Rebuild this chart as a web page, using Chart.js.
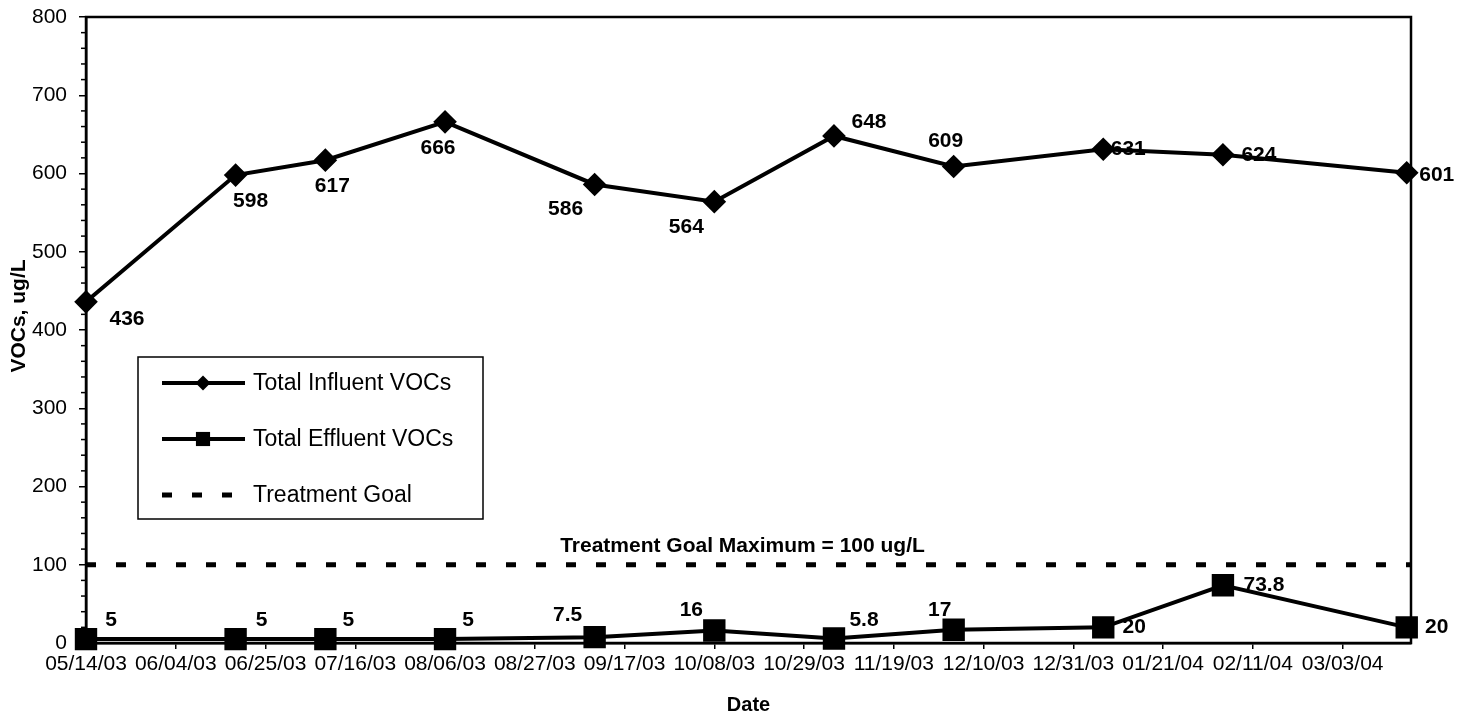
<!DOCTYPE html>
<html>
<head>
<meta charset="utf-8">
<title>Total VOCs - Influent / Effluent</title>
<script src="https://cdn.jsdelivr.net/npm/chart.js@4.4.1/dist/chart.umd.min.js"></script>
<style>
    html, body { margin: 0; padding: 0; background: #fff; }
    #wrap { width: 1477px; height: 723px; }
</style>
</head>
<body>
<div id="wrap"><canvas id="vocChart"></canvas></div>
<script>
// sampling dates and results (ug/L)
const sampleDates = ["05/14/03", "06/18/03", "07/09/03", "08/06/03", "09/10/03", "10/08/03",
                     "11/05/03", "12/03/03", "01/07/04", "02/04/04", "03/18/04"];
const influentVOCs = [436, 598, 617, 666, 586, 564, 648, 609, 631, 624, 601];
const effluentVOCs = [5, 5, 5, 5, 7.5, 16, 5.8, 17, 20, 73.8, 20];
const treatmentGoal = 100;

// axis range and tick labels
const axisStart = "05/14/03";
const axisEnd = "03/19/04";
const dateTicks = ["05/14/03", "06/04/03", "06/25/03", "07/16/03", "08/06/03", "08/27/03", "09/17/03",
                   "10/08/03", "10/29/03", "11/19/03", "12/10/03", "12/31/03", "01/21/04", "02/11/04", "03/03/04"];
const yTicks = [0, 100, 200, 300, 400, 500, 600, 700, 800];

// where each data label sits relative to its point (dx, dy in px)
const influentLabelOffsets = [[41, 17], [15, 26], [7, 26], [-7, 26], [-29, 25], [-28, 26],
                              [35, -14], [-8, -25], [25, 0], [36, 0], [30, 2]];
const effluentLabelOffsets = [[25, -19], [26, -19], [23, -19], [23, -19], [-27, -22], [-23, -20],
                              [30, -18], [-14, -19], [31, 0], [41, 0], [30, 0]];

const FONT = 'Arial, "Liberation Sans", sans-serif';

// mm/dd/yy -> day number
function toDay(str) {
    const parts = str.split("/").map(Number);
    return Date.UTC(2000 + parts[2], parts[0] - 1, parts[1]) / 86400000;
}

const tickLabelByDay = {};
dateTicks.forEach(t => { tickLabelByDay[toDay(t)] = t; });

// frame around the plot area + minor ticks on the y axis + y title
const framePlugin = {
    id: "frame",
    beforeDatasetsDraw(chart) {
        const { ctx, chartArea } = chart;
        const y = chart.scales.y;
        ctx.save();
        ctx.strokeStyle = "#000";
        ctx.lineWidth = 2.5;
        ctx.strokeRect(chartArea.left, chartArea.top, chartArea.right - chartArea.left, chartArea.bottom - chartArea.top);
        ctx.lineWidth = 1.5;
        for (let v = 0; v <= 800; v += 20) {
            if (v % 100 === 0) continue;
            const py = y.getPixelForValue(v);
            ctx.beginPath();
            ctx.moveTo(chartArea.left - 5, py);
            ctx.lineTo(chartArea.left, py);
            ctx.stroke();
        }

        // axis title, a bit above the middle like the original
        ctx.translate(19, (chartArea.top + chartArea.bottom) / 2 - 14);
        ctx.rotate(-Math.PI / 2);
        ctx.fillStyle = "#000";
        ctx.font = "bold 21px " + FONT;
        ctx.textAlign = "center";
        ctx.textBaseline = "middle";
        ctx.fillText("VOCs, ug/L", 0, 0);
        ctx.restore();
    }
};

// value labels next to the points and the goal caption
const labelPlugin = {
    id: "valueLabels",
    afterDatasetsDraw(chart) {
        const ctx = chart.ctx;
        ctx.save();
        ctx.fillStyle = "#000";
        ctx.font = "bold 21px " + FONT;
        ctx.textAlign = "center";
        ctx.textBaseline = "middle";

        const series = [[0, influentVOCs, influentLabelOffsets], [1, effluentVOCs, effluentLabelOffsets]];
        series.forEach(([index, values, offsets]) => {
            const meta = chart.getDatasetMeta(index);
            meta.data.forEach((pt, i) => {
                ctx.fillText(String(values[i]), pt.x + offsets[i][0], pt.y + offsets[i][1]);
            });
        });

        const area = chart.chartArea;
        const goalY = chart.scales.y.getPixelForValue(treatmentGoal);
        ctx.fillText("Treatment Goal Maximum = 100 ug/L", (area.left + area.right) / 2 - 6, goalY - 19);
        ctx.restore();
    }
};

// legend box sitting inside the plot
const legendBox = { left: 138, top: 357, width: 345, height: 162 };
const legendRadius = [7.5, 10, 0];

const insetLegend = {
    id: "insetLegend",
    afterDraw(chart) {
        const ctx = chart.ctx;
        ctx.save();
        ctx.fillStyle = "#fff";
        ctx.fillRect(legendBox.left, legendBox.top, legendBox.width, legendBox.height);
        ctx.strokeStyle = "#000";
        ctx.lineWidth = 1.5;
        ctx.strokeRect(legendBox.left, legendBox.top, legendBox.width, legendBox.height);

        ctx.font = "23px " + FONT;
        ctx.textAlign = "left";
        ctx.textBaseline = "middle";
        chart.data.datasets.forEach((ds, i) => {
            const y = legendBox.top + 26 + i * 56;
            ctx.strokeStyle = "#000";
            ctx.fillStyle = "#000";
            ctx.lineWidth = ds.borderWidth;
            ctx.setLineDash(ds.borderDash || []);
            ctx.beginPath();
            ctx.moveTo(legendBox.left + 24, y);
            ctx.lineTo(legendBox.left + 107, y);
            ctx.stroke();
            ctx.setLineDash([]);
            if (legendRadius[i] > 0) {
                Chart.helpers.drawPoint(ctx, { pointStyle: ds.pointStyle, radius: legendRadius[i], borderWidth: 0 },
                    legendBox.left + 65, y);
            }
            ctx.fillText(ds.label, legendBox.left + 115, y + 1);
        });
        ctx.restore();
    }
};

document.addEventListener("DOMContentLoaded", function () {
    const ctx = document.getElementById("vocChart").getContext("2d");

    const influentData = sampleDates.map((d, i) => ({ x: toDay(d), y: influentVOCs[i] }));
    const effluentData = sampleDates.map((d, i) => ({ x: toDay(d), y: effluentVOCs[i] }));
    const goalData = [{ x: toDay(axisStart), y: treatmentGoal }, { x: toDay(axisEnd), y: treatmentGoal }];

    new Chart(ctx, {
        type: "line",
        data: {
            datasets: [{
                label: "Total Influent VOCs",
                data: influentData,
                borderColor: "#000",
                backgroundColor: "#000",
                borderWidth: 4,
                pointStyle: "rectRot",
                pointRadius: 9,
                pointHoverRadius: 9,
                tension: 0,
                clip: false
            }, {
                label: "Total Effluent VOCs",
                data: effluentData,
                borderColor: "#000",
                backgroundColor: "#000",
                borderWidth: 4,
                pointStyle: "rect",
                pointRadius: 13,
                pointHoverRadius: 13,
                tension: 0,
                clip: false
            }, {
                label: "Treatment Goal",
                data: goalData,
                borderColor: "#000",
                borderWidth: 5,
                borderDash: [10, 20],
                borderCapStyle: "butt",
                pointRadius: 0,
                pointHoverRadius: 0,
                clip: false
            }]
        },
        options: {
            responsive: true,
            maintainAspectRatio: false,
            animation: false,
            events: [],
            layout: { padding: { top: 15, right: 66, left: 0, bottom: 0 } },
            plugins: {
                legend: { display: false },
                tooltip: { enabled: false }
            },
            scales: {
                x: {
                    type: "linear",
                    min: toDay(axisStart),
                    max: toDay(axisEnd),
                    afterBuildTicks: scale => { scale.ticks = dateTicks.map(t => ({ value: toDay(t) })); },
                    afterFit: scale => {
                        scale.height = 80;
                        scale.paddingLeft = 0;
                        scale.paddingRight = 0;
                    },
                    ticks: {
                        autoSkip: false,
                        maxRotation: 0,
                        padding: 3,
                        color: "#000",
                        font: { family: FONT, size: 21 },
                        callback: value => tickLabelByDay[value] || ""
                    },
                    grid: { drawOnChartArea: false, drawTicks: true, tickLength: 6, color: "#000", lineWidth: 1.5 },
                    border: { color: "#000", width: 2.5 },
                    title: {
                        display: true,
                        text: "Date",
                        color: "#000",
                        font: { family: FONT, size: 20, weight: "bold" },
                        padding: { top: 0, bottom: 6 }
                    }
                },
                y: {
                    min: 0,
                    max: 800,
                    afterBuildTicks: scale => { scale.ticks = yTicks.map(v => ({ value: v })); },
                    afterFit: scale => {
                        scale.width = 86;
                        scale.paddingTop = 0;
                        scale.paddingBottom = 0;
                    },
                    ticks: {
                        padding: 12,
                        color: "#000",
                        font: { family: FONT, size: 21 }
                    },
                    grid: { drawOnChartArea: false, drawTicks: true, tickLength: 7, color: "#000", lineWidth: 1.5 },
                    border: { color: "#000", width: 2.5 }
                }
            }
        },
        plugins: [framePlugin, labelPlugin, insetLegend]
    });
});
</script>
</body>
</html>
